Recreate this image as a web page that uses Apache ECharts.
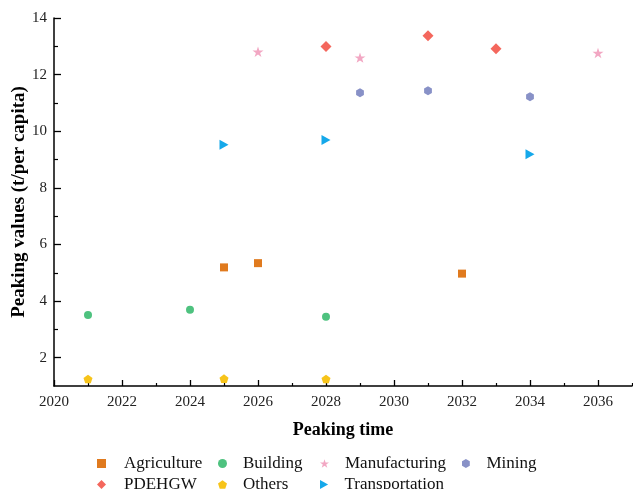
<!DOCTYPE html>
<html><head><meta charset="utf-8">
<script src="https://cdn.jsdelivr.net/npm/echarts@6/dist/echarts.min.js"></script>
<style>html,body{margin:0;padding:0;background:#fff}#c{width:633px;height:489px}</style>
</head><body><div id="c"></div>
<script>
// ---- data ----
const seriesNames = ['Agriculture','Building','Manufacturing','Mining','PDEHGW','Others','Transportation'];
const agricultureYears = [2025, 2026, 2032];
const agricultureValues = [5.19, 5.34, 4.97];
const buildingYears = [2021, 2024, 2028];
const buildingValues = [3.51, 3.69, 3.45];
const manufacturingYears = [2026, 2029, 2036];
const manufacturingValues = [12.81, 12.60, 12.76];
const miningYears = [2029, 2031, 2034];
const miningValues = [11.36, 11.43, 11.22];
const pdehgwYears = [2028, 2031, 2033];
const pdehgwValues = [12.99, 13.37, 12.91];
const othersYears = [2021, 2025, 2028];
const othersValues = [1.25, 1.26, 1.25];
const transportationYears = [2025, 2028, 2034];
const transportationValues = [9.52, 9.69, 9.19];
const xTickLabels = [2020, 2022, 2024, 2026, 2028, 2030, 2032, 2034, 2036];
const xMinorTicks = [2021, 2023, 2025, 2027, 2029, 2031, 2033, 2035, 2037];
const yTickLabels = [2, 4, 6, 8, 10, 12, 14];
const yMinorTicks = [3, 5, 7, 9, 11, 13];

const FONT = '"Liberation Serif","Times New Roman",serif';
const starPath = 'path://M50,0 L61.8,36.2 L100,36.2 L69.1,58.8 L80.9,95.1 L50,72.7 L19.1,95.1 L30.9,58.8 L0,36.2 L38.2,36.2 Z';
const hexPath = 'path://M50,0 L93.3,25 L93.3,75 L50,100 L6.7,75 L6.7,25 Z';
const pentPath = 'path://M50,0 L100,36.3 L80.9,95.1 L19.1,95.1 L0,36.3 Z';
const triRightPath = 'path://M0,0 L90,50 L0,100 Z';

const pairs = (xs, ys) => xs.map((x, i) => [x, ys[i]]);
const defs = [
  {name:'Agriculture', xs:agricultureYears, ys:agricultureValues, symbol:'rect', size:8, color:'#E07A1E'},
  {name:'Building', xs:buildingYears, ys:buildingValues, symbol:'circle', size:8, color:'#4EC27F'},
  {name:'Manufacturing', xs:manufacturingYears, ys:manufacturingValues, symbol:starPath, size:11, color:'#F2A7C3'},
  {name:'Mining', xs:miningYears, ys:miningValues, symbol:hexPath, size:9, color:'#8891C7'},
  {name:'PDEHGW', xs:pdehgwYears, ys:pdehgwValues, symbol:'diamond', size:11, color:'#F4675D'},
  {name:'Others', xs:othersYears, ys:othersValues, symbol:pentPath, size:9, color:'#F7C41A'},
  {name:'Transportation', xs:transportationYears, ys:transportationValues, symbol:triRightPath, size:10, color:'#15A8EA'}
];

const series = defs.map(d => ({
  name: d.name, type: 'scatter', data: pairs(d.xs, d.ys),
  symbol: d.symbol, symbolSize: d.size, symbolKeepAspect: true,
  itemStyle: {color: d.color, opacity: 1}, xAxisIndex: 0, yAxisIndex: 0
}));

// legend grid: one legend component per entry
const legendSlots = [
  {name:'Agriculture', left: 97, top: 455, pad: 13},
  {name:'Building', left: 218, top: 455, pad: 11},
  {name:'Manufacturing', left: 320, top: 455, pad: 11},
  {name:'Mining', left: 462, top: 455, pad: 11},
  {name:'PDEHGW', left: 97, top: 476, pad: 13},
  {name:'Others', left: 218, top: 476, pad: 11},
  {name:'Transportation', left: 320, top: 476, pad: 11}
];
const legend = legendSlots.map(s => {
  const d = defs.find(e => e.name === s.name);
  return {
    left: s.left, top: s.top, itemWidth: 9, itemHeight: 9, padding: 0,
    data: [{name: s.name, icon: d.symbol}],
    textStyle: {fontFamily: FONT, fontSize: 17, color: '#111', padding: [0,0,0,s.pad]}
  };
});

const axisFont = {fontFamily: FONT, fontSize: 15, color: '#222'};
const option = {
  animation: false,
  backgroundColor: '#fff',
  grid: {left: 54, right: 1, top: 18, bottom: 103, containLabel: false, outerBoundsMode: 'none'},
  legend: legend,
  xAxis: [{
    type: 'value', min: 2020, max: 2037, interval: 1,
    name: 'Peaking time', nameLocation: 'middle', nameGap: 35, nameMoveOverlap: false,
    nameTextStyle: {fontFamily: FONT, fontSize: 18, fontWeight: 'bold', color: '#000'},
    axisLine: {show: true, lineStyle: {color: '#000', width: 1.5}},
    axisTick: {show: true, inside: true, length: 6, customValues: xTickLabels, lineStyle: {color: '#000', width: 1.3}},
    axisLabel: Object.assign({margin: 9, customValues: xTickLabels, formatter: v => String(v)}, axisFont),
    splitLine: {show: false}
  }, {
    type: 'value', min: 2020, max: 2037, position: 'bottom', gridIndex: 0,
    axisLine: {show: false},
    axisTick: {show: true, inside: true, length: 3, customValues: xMinorTicks, lineStyle: {color: '#000', width: 1.2}},
    axisLabel: {show: false}, splitLine: {show: false}
  }],
  yAxis: [{
    type: 'value', min: 1, max: 14, interval: 1,
    name: 'Peaking values (t/per capita)', nameLocation: 'middle', nameGap: 25, nameMoveOverlap: false,
    nameTextStyle: {fontFamily: FONT, fontSize: 19, fontWeight: 'bold', color: '#000'},
    axisLine: {show: true, lineStyle: {color: '#000', width: 1.5}},
    axisTick: {show: true, inside: true, length: 7, customValues: yTickLabels, lineStyle: {color: '#000', width: 1.3}},
    axisLabel: Object.assign({margin: 7, customValues: yTickLabels}, axisFont),
    splitLine: {show: false}
  }, {
    type: 'value', min: 1, max: 14, position: 'left', gridIndex: 0,
    axisLine: {show: false},
    axisTick: {show: true, inside: true, length: 4, customValues: yMinorTicks, lineStyle: {color: '#000', width: 1.2}},
    axisLabel: {show: false}, splitLine: {show: false}
  }],
  series: series
};
const chart = echarts.init(document.getElementById('c'), null, {renderer: 'canvas'});
chart.setOption(option);
</script>
</body></html>
